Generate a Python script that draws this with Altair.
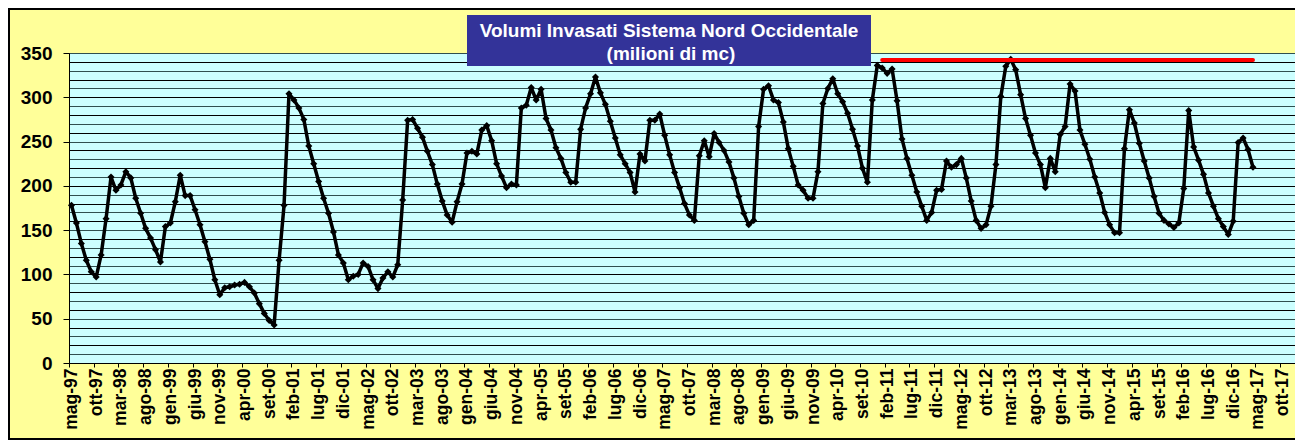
import altair as alt
import pandas as pd

# Monthly stored volumes (milioni di mc), from mag-97 onward
volumes = [
    178, 158, 135, 116, 103, 97, 122, 163, 210, 195,
    201, 216, 209, 186, 169, 152, 141, 128, 114, 154,
    158, 182, 212, 189, 189, 173, 156, 137, 117, 94,
    77, 85, 86, 88, 89, 91, 86, 79, 67, 56,
    48, 43, 116, 178, 304, 297, 288, 275, 245, 225,
    205, 186, 169, 148, 122, 113, 94, 98, 100, 113,
    109, 94, 84, 96, 103, 97, 111, 184, 274, 275,
    265, 255, 239, 224, 202, 183, 167, 159, 182, 202,
    237, 239, 236, 263, 268, 251, 225, 211, 198, 202,
    201, 288, 291, 311, 297, 309, 276, 263, 243, 231,
    215, 204, 204, 264, 288, 304, 323, 305, 292, 273,
    254, 235, 225, 215, 193, 236, 228, 274, 274, 281,
    257, 235, 215, 198, 180, 167, 161, 234, 251, 233,
    259, 249, 240, 227, 209, 188, 169, 156, 161, 267,
    309, 313, 297, 294, 272, 242, 222, 201, 195, 186,
    186, 216, 293, 310, 321, 304, 295, 282, 264, 245,
    220, 204, 297, 336, 333, 327, 332, 296, 253, 231,
    212, 193, 177, 161, 170, 195, 196, 228, 221, 224,
    231, 209, 183, 161, 152, 156, 177, 224, 301, 335,
    343, 331, 303, 276, 257, 237, 224, 198, 231, 216,
    258, 267, 315, 307, 263, 247, 230, 210, 192, 170,
    156, 147, 147, 242, 286, 271, 248, 228, 209, 188,
    169, 161, 157, 153, 158, 197, 285, 244, 229, 213,
    192, 177, 163, 154, 145, 160, 249, 254, 241, 221,
]

tick_labels = [
    "mag-97", "ott-97", "mar-98", "ago-98", "gen-99", "giu-99", "nov-99", "apr-00",
    "set-00", "feb-01", "lug-01", "dic-01", "mag-02", "ott-02", "mar-03", "ago-03",
    "gen-04", "giu-04", "nov-04", "apr-05", "set-05", "feb-06", "lug-06", "dic-06",
    "mag-07", "ott-07", "mar-08", "ago-08", "gen-09", "giu-09", "nov-09", "apr-10",
    "set-10", "feb-11", "lug-11", "dic-11", "mag-12", "ott-12", "mar-13", "ago-13",
    "gen-14", "giu-14", "nov-14", "apr-15", "set-15", "feb-16", "lug-16", "dic-16",
    "mag-17", "ott-17",
]

# reference level (red line): month positions and value
red_months = [164, 239]
red_values = [342, 342]

y_ticks = [0, 50, 100, 150, 200, 250, 300, 350]
title_lines = ["Volumi Invasati Sistema Nord Occidentale", "(milioni  di mc)"]

n_categories = 248  # months shown on the category axis

df = pd.DataFrame({"m": list(range(len(volumes))), "v": volumes})
red_df = pd.DataFrame({"m": red_months, "v": red_values})
one = pd.DataFrame({"a": [0]})

FONT = "Liberation Sans"

x_scale = alt.Scale(domain=[-0.5, n_categories - 0.5], nice=False, zero=False)
y_scale = alt.Scale(domain=[y_ticks[0], y_ticks[-1]], nice=False)

label_js = "[" + ",".join("'" + t + "'" for t in tick_labels) + "]"

x_axis = alt.Axis(
    values=[5 * k - 0.5 for k in range(len(tick_labels))],
    labelExpr=label_js + "[round((datum.value + 0.5) / 5)]",
    labelAngle=270,
    labelOffset=2.5,
    labelFont=FONT,
    labelFontSize=17.5,
    labelFontWeight="bold",
    labelColor="black",
    labelPadding=1,
    labelFlush=False,
    labelOverlap=False,
    labelBound=False,
    tickSize=4,
    tickColor="black",
    domainColor="black",
    grid=False,
    title=None,
)

y_axis = alt.Axis(
    values=list(range(y_ticks[0], y_ticks[-1] + 1, 10)),
    labelExpr="datum.value % 50 === 0 ? datum.label : ''",
    labelFont=FONT,
    labelFontSize=19,
    labelFontWeight="bold",
    labelColor="black",
    labelPadding=11,
    labelOverlap=False,
    labelBound=False,
    labelFlush=False,
    tickSize=6,
    tickColor="black",
    tickOpacity={"condition": {"test": "datum.value % 50 === 0", "value": 1}, "value": 0},
    domainColor="black",
    grid=True,
    gridColor={"condition": {"test": "datum.value % 20 === 0", "value": "#000000"}, "value": "#2f4f4f"},
    gridWidth=1,
    gridOpacity=1,
    title=None,
)

enc_x = alt.X("m:Q", scale=x_scale, axis=x_axis)
enc_y = alt.Y("v:Q", scale=y_scale, axis=y_axis)

line = alt.Chart(df).mark_line(
    color="black",
    strokeWidth=3.5,
    strokeJoin="round",
    point=alt.OverlayMarkDef(shape="diamond", size=50, filled=True, color="black"),
).encode(x=enc_x, y=enc_y)

red = alt.Chart(red_df).mark_line(color="#ff0000", strokeWidth=4, strokeCap="round").encode(
    x=enc_x, y=enc_y
)

frame = alt.Chart(one).mark_rect(fillOpacity=0, stroke="black", strokeWidth=2).encode(
    x=alt.value(-60), x2=alt.value(1260), y=alt.value(-44), y2=alt.value(386)
)

title_box = alt.Chart(one).mark_rect(fill="#333399").encode(
    x=alt.value(398), x2=alt.value(802), y=alt.value(-38), y2=alt.value(13)
)
title1 = alt.Chart(one).mark_text(
    font=FONT, fontSize=19, fontWeight="bold", color="white", align="center", baseline="middle"
).encode(x=alt.value(600), y=alt.value(-22), text=alt.value(title_lines[0]))
title2 = alt.Chart(one).mark_text(
    font=FONT, fontSize=19, fontWeight="bold", color="white", align="center", baseline="middle"
).encode(x=alt.value(602), y=alt.value(1), text=alt.value(title_lines[1]))

chart = alt.layer(line, red, frame, title_box, title1, title2).properties(
    width=1226,
    height=310,
    background="#ffff99",
    padding={"left": 61, "top": 45, "right": 0, "bottom": 77},
    autosize=alt.AutoSizeParams(type="none"),
).configure_view(
    fill="#ccffff", stroke="black", strokeWidth=1
)

chart.save("out.html", embed_options={"renderer": "svg", "actions": False})
